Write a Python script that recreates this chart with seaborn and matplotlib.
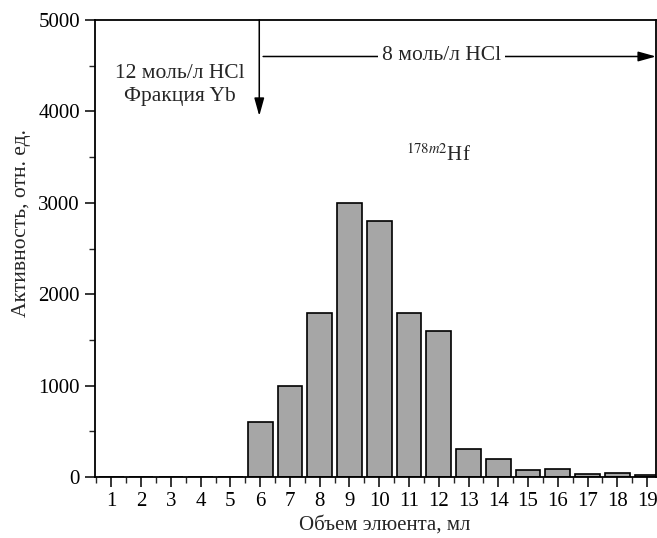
import numpy as np
import pandas as pd
import seaborn as sns
import matplotlib.pyplot as plt
from matplotlib.ticker import MultipleLocator

# elution data
volume_ml = [1, 2, 3, 4, 5, 6, 7, 8, 9, 10, 11, 12, 13, 14, 15, 16, 17, 18, 19]
activity = [0, 0, 0, 0, 0, 600, 1000, 1800, 3000, 2800, 1800, 1600, 310, 200, 75, 95, 30, 50, 25]

df = pd.DataFrame({"vol": volume_ml, "act": activity})

sns.set_theme(style="ticks")
plt.rcParams["font.family"] = ["Liberation Serif", "DejaVu Serif"]
plt.rcParams["mathtext.fontset"] = "stix"

fig, ax = plt.subplots(figsize=(6.57, 5.38), dpi=100)
fig.subplots_adjust(left=0.145, right=0.9985, top=0.963, bottom=0.113)

sns.barplot(data=df, x="vol", y="act", native_scale=True, width=0.83,
            color="#a6a6a6", edgecolor="black", linewidth=1.2, saturation=1, ax=ax)

ax.set_xlim(0.46, 19.3)
ax.set_ylim(0, 5000)
ax.set_xticks(volume_ml)
ax.xaxis.set_minor_locator(MultipleLocator(0.5))
ax.yaxis.set_major_locator(MultipleLocator(1000))
ax.yaxis.set_minor_locator(MultipleLocator(500))
ax.tick_params(which="major", direction="out", length=7, width=1.1, labelsize=15,
               colors="black", pad=4)
ax.tick_params(which="minor", direction="out", length=4, width=1.0)
for s in ax.spines.values():
    s.set_visible(True)
    s.set_linewidth(1.3)
    s.set_color("black")

ax.set_xlabel("Объем элюента, мл", fontsize=15, labelpad=3)
ax.set_ylabel("Активность, отн. ед.", fontsize=15.5, labelpad=5)
ax.xaxis.label.set_x(0.517)
ax.yaxis.label.set_y(0.556)

# annotations
ax.text(3.3, 4290, "12 моль/л HCl\nФракция Yb", ha="center", va="center",
        fontsize=15.5, linespacing=1.25)
ax.annotate("", xy=(5.97, 3950), xytext=(5.97, 5000),
            arrowprops=dict(arrowstyle="-|>,head_length=0.9,head_width=0.25",
                            color="black", lw=1.1, shrinkA=0, shrinkB=0))
ax.annotate("", xy=(19.3, 4600), xytext=(6.1, 4600),
            arrowprops=dict(arrowstyle="-|>,head_length=0.9,head_width=0.25",
                            color="black", lw=1.1, shrinkA=0, shrinkB=0))
ax.text(12.1, 4610, "8 моль/л HCl", ha="center", va="center", fontsize=15.5,
        bbox=dict(facecolor="white", edgecolor="none", pad=3))
ax.text(12.0, 3520, r"$^{178m2}$Hf", ha="center", va="center", fontsize=15)

fig.savefig("out.png", dpi=100)
